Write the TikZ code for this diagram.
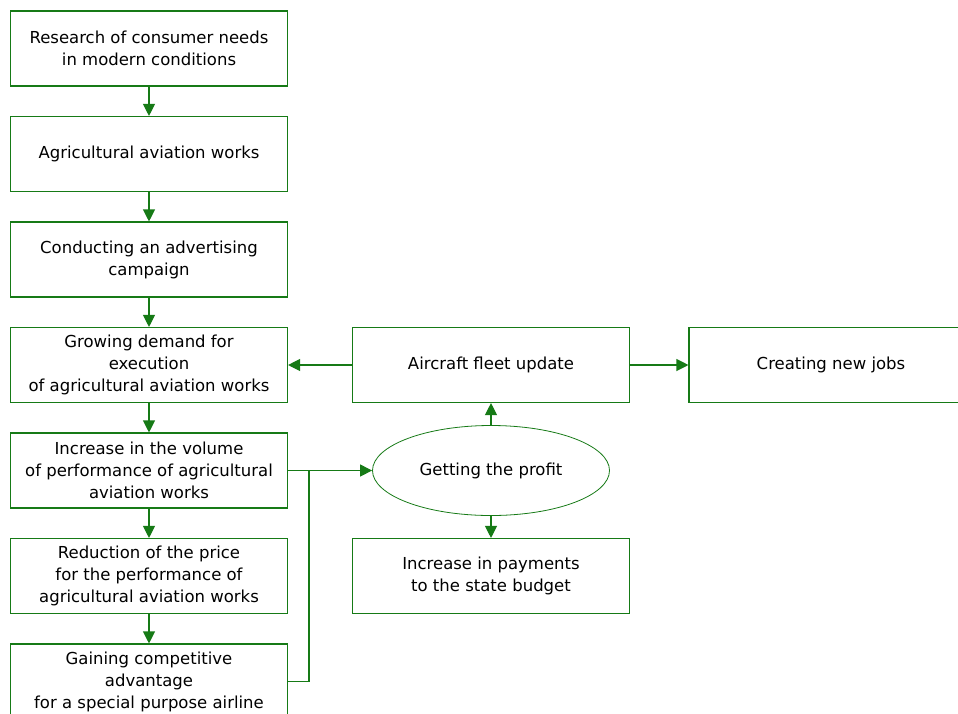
\documentclass[tikz,border=0pt]{standalone}
\usepackage{fontspec}
\setmainfont{DejaVu Sans}
\usetikzlibrary{shapes.geometric,arrows.meta}
\definecolor{linegreen}{RGB}{22,122,22}

\begin{document}
\begin{tikzpicture}[node distance={105.5pt},
    main/.style = {draw=linegreen, line width=1.1pt, minimum width=277pt, minimum height=75pt, align=center, inner sep=0pt, font=\fontsize{16.5}{22}\selectfont},
    oval/.style = {draw=linegreen, line width=0.8pt, ellipse, minimum width=237pt, minimum height=90pt, inner sep=0pt, font=\fontsize{16.5}{22}\selectfont},
    link/.style = {draw=linegreen, line width=1.1pt},
    arr/.style = {link, -{Triangle[length=12pt,width=12pt]}}]
            \useasboundingbox (0,0) rectangle (958pt,-713pt);

            \node[main] (1) at (149pt,-48.5pt) {Research of consumer needs\\in modern conditions};
            \node[main] (2) [below of=1] {Agricultural aviation works};
            \node[main] (3) [below of=2] {Conducting an advertising\\campaign};
            \node[main] (4) [below of=3] {Growing demand for\\execution\\of agricultural aviation works};
            \node[main] (5) [below of=4] {Increase in the volume\\of performance of agricultural\\aviation works};
            \node[main] (6) [below of=5] {Reduction of the price\\for the performance of\\agricultural aviation works};
            \node[main] (7) [below of=6] {Gaining competitive\\advantage\\for a special purpose airline};

            \node[main] (8) [right of=4, node distance=342pt] {Aircraft fleet update};
            \node[main, minimum width=284pt] (9) [right of=8, node distance=340pt] {Creating new jobs};
            \node[oval] (10) [below of=8] {Getting the profit};
            \node[main] (11) [below of=10] {Increase in payments\\to the state budget};

            \coordinate[right of=5, node distance=160pt] (j);

            \draw[arr] (1) -- (2);
            \draw[arr] (2) -- (3);
            \draw[arr] (3) -- (4);
            \draw[arr] (4) -- (5);
            \draw[arr] (5) -- (6);
            \draw[arr] (6) -- (7);

            \draw[arr] (5) -- (10);
            \draw[link] (7) -| (j);

            \draw[arr] (10) -- (8);
            \draw[arr] (10) -- (11);
            \draw[arr] (8) -- (4);
            \draw[arr] (8) -- (9);
        \end{tikzpicture}
\end{document}
